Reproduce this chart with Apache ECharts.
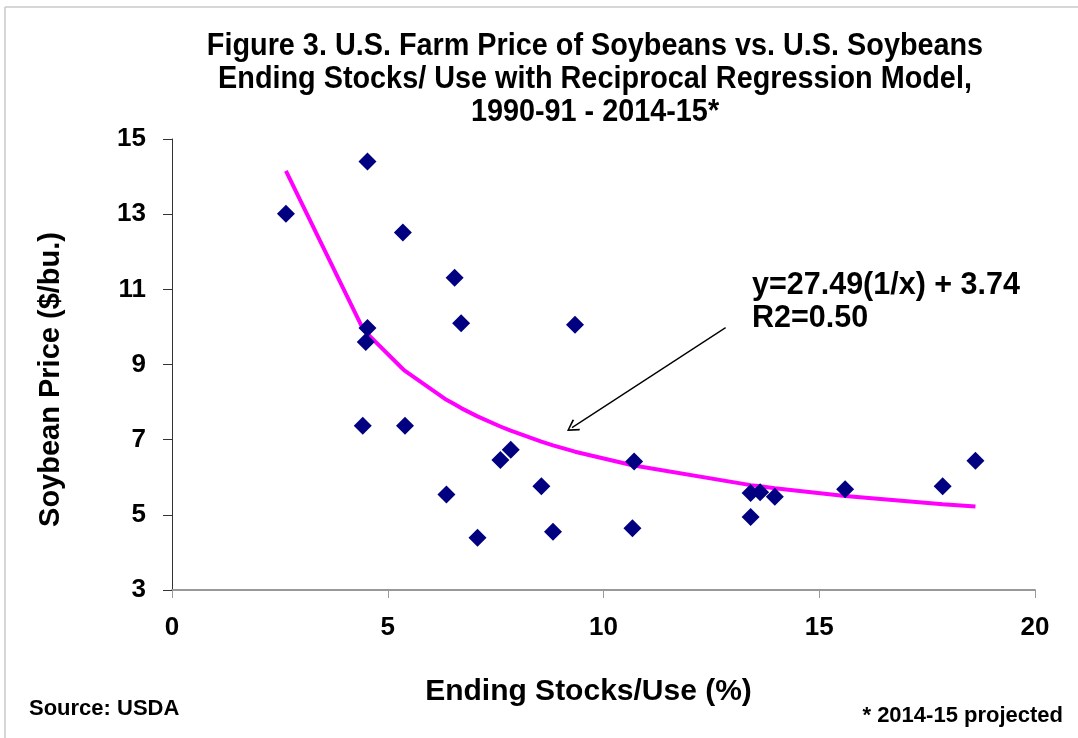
<!DOCTYPE html>
<html><head><meta charset="utf-8">
<script src="https://cdn.jsdelivr.net/npm/echarts@6/dist/echarts.min.js"></script>
<style>html,body{margin:0;padding:0;background:#fff}#c{width:1078px;height:738px}</style>
</head><body><div id="c"></div>
<script>
// Ending stocks / use (%) and farm price ($/bu.), 1990-91 .. 2014-15 (order by stocks/use)
const stocksUse = [2.64, 4.42, 4.49, 4.53, 4.53, 5.35, 5.40, 6.36, 6.55, 6.70, 7.08, 7.61, 7.85, 8.56, 8.83, 9.34, 10.67, 10.71, 13.41, 13.41, 13.63, 13.97, 15.60, 17.86, 18.62];
const farmPrice = [13.01, 7.37, 9.60, 14.40, 9.97, 12.51, 7.37, 5.54, 11.31, 10.10, 4.39, 6.46, 6.73, 5.76, 4.55, 10.06, 4.64, 6.42, 5.58, 4.94, 5.60, 5.48, 5.68, 5.76, 6.44];
// fitted reciprocal-model price at each stocks/use value
const fittedPrice = [14.15, 9.96, 9.86, 9.81, 9.81, 8.88, 8.83, 8.06, 7.94, 7.84, 7.62, 7.35, 7.24, 6.95, 6.85, 6.68, 6.32, 6.31, 5.79, 5.79, 5.76, 5.71, 5.50, 5.28, 5.22];
const arrowFrom = [12.83, 9.98];
const arrowTo = [9.27, 7.32];
const titleLines = ['Figure 3. U.S. Farm Price of Soybeans vs. U.S. Soybeans', 'Ending Stocks/ Use with Reciprocal Regression Model,', '1990-91 - 2014-15*'];
const equationLines = ['y=27.49(1/x) + 3.74', 'R2=0.50'];

const F = '"Liberation Sans", Arial, sans-serif';
const chart = echarts.init(document.getElementById('c'));
const arrowPath = 'path://M5,0L10,9L9,10L5,2.4L1,10L0,9Z';

chart.setOption({
  animation: false,
  backgroundColor: '#fff',
  grid: {left: 172, right: 43, top: 139, bottom: 148},
  xAxis: {
    type: 'value', min: 0, max: 20, interval: 5,
    name: 'Ending Stocks/Use (%)', nameLocation: 'middle', nameGap: 87,
    nameTextStyle: {fontFamily: F, fontWeight: 'bold', fontSize: 30, color: '#000', padding: [0, 30, 0, 0]},
    axisLine: {show: true, onZero: false, lineStyle: {color: '#999', width: 2}},
    axisTick: {show: true, length: 8, lineStyle: {color: '#999', width: 1}},
    axisLabel: {margin: 25, fontFamily: F, fontWeight: 'bold', fontSize: 26, color: '#000'},
    splitLine: {show: false}
  },
  yAxis: {
    type: 'value', min: 3, max: 15, interval: 2,
    name: 'Soybean Price ($/bu.)', nameLocation: 'middle', nameGap: 107, nameRotate: 90,
    nameTextStyle: {fontFamily: F, fontWeight: 'bold', fontSize: 29, color: '#000', padding: [0, 30, 0, 0]},
    axisLine: {show: true, onZero: false, lineStyle: {color: '#333', width: 1}},
    axisTick: {show: true, length: 9, lineStyle: {color: '#333', width: 1}},
    axisLabel: {margin: 26, fontFamily: F, fontWeight: 'bold', fontSize: 26, color: '#000'},
    splitLine: {show: false}
  },
  series: [
    {
      type: 'line', z: 2,
      data: stocksUse.map((x, i) => [x, fittedPrice[i]]),
      symbol: 'none', showSymbol: false,
      lineStyle: {color: '#FF00FF', width: 4},
      markLine: {
        silent: true, animation: false,
        symbol: ['none', arrowPath], symbolSize: [13, 12],
        lineStyle: {color: '#000', width: 1.3, type: 'solid'},
        label: {show: false},
        data: [[{coord: arrowFrom}, {coord: arrowTo}]]
      }
    },
    {
      type: 'scatter', z: 3,
      data: stocksUse.map((x, i) => [x, farmPrice[i]]),
      symbol: 'diamond', symbolSize: 18,
      itemStyle: {color: '#000080', opacity: 1}
    }
  ],
  graphic: [
    {type: 'line', shape: {x1: 5, y1: 7, x2: 5, y2: 738}, style: {stroke: '#c8c8c8', lineWidth: 1.5}},
    {type: 'line', shape: {x1: 5, y1: 7, x2: 1078, y2: 7}, style: {stroke: '#c8c8c8', lineWidth: 1.5}},
    {type: 'text', x: 595, y: 30, scaleX: 0.9, style: {text: titleLines.join('\n'), x: 0, y: 0, align: 'center', verticalAlign: 'top', lineHeight: 33, font: 'bold 32px ' + F, fill: '#000'}},
    {type: 'text', style: {text: equationLines.join('\n'), x: 752, y: 269.5, align: 'left', verticalAlign: 'top', lineHeight: 33, font: 'bold 30.5px ' + F, fill: '#000'}},
    {type: 'text', style: {text: 'Source: USDA', x: 29, y: 709, align: 'left', verticalAlign: 'middle', font: 'bold 22px ' + F, fill: '#000'}},
    {type: 'text', style: {text: '* 2014-15 projected', x: 1063, y: 716, align: 'right', verticalAlign: 'middle', font: 'bold 22px ' + F, fill: '#000'}}
  ]
});
</script></body></html>
